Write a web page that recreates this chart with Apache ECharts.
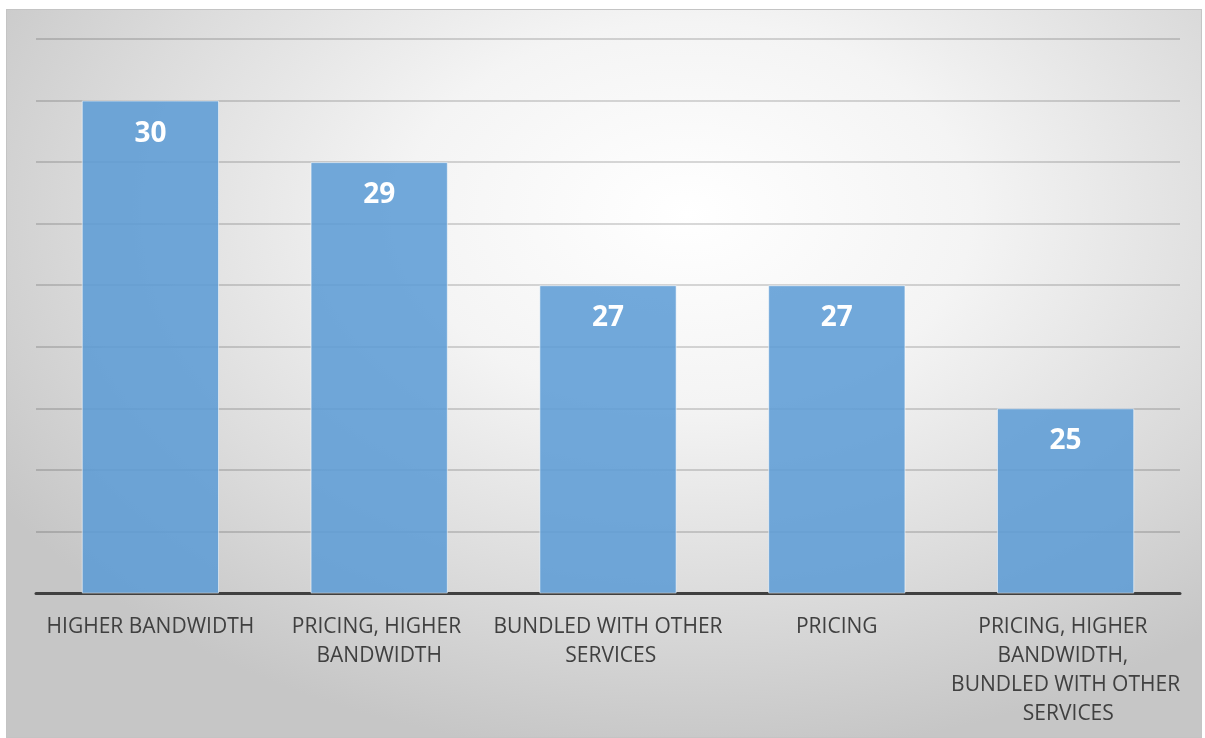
<!DOCTYPE html>
<html>
<head>
<meta charset="utf-8">
<script src="https://cdn.jsdelivr.net/npm/echarts@6/dist/echarts.min.js"></script>
<style>
html,body{margin:0;padding:0;width:1205px;height:738px;background:#fff;overflow:hidden;}
#bg{position:absolute;left:6px;top:9px;width:1196px;height:729px;border:1px solid #c4c4c4;box-sizing:border-box;
background:radial-gradient(ellipse 68% 75% at 57% 28%, #ffffff 0%, #f4f4f4 35%, #dcdcdc 70%, #c6c6c6 100%);}
#chart{position:absolute;left:0;top:0;width:1205px;height:738px;}
</style>
</head>
<body>
<div id="bg"></div>
<div id="chart"></div>
<script>
const categories = ['HIGHER BANDWIDTH', 'PRICING, HIGHER BANDWIDTH', 'BUNDLED WITH OTHER SERVICES', 'PRICING', 'PRICING, HIGHER BANDWIDTH, BUNDLED WITH OTHER SERVICES'];
const values = [30, 29, 27, 27, 25];
const yMin = 22, yMax = 31, yStep = 1;

const chart = echarts.init(document.getElementById('chart'), null, {renderer: 'canvas'});
chart.setOption({
  backgroundColor: 'transparent',
  animation: false,
  grid: {left: 36, right: 25, top: 39, bottom: 145, containLabel: false},
  xAxis: {
    type: 'category',
    data: categories,
    axisLine: {show: true, lineStyle: {color: '#404040', width: 3}},
    axisTick: {show: false},
    axisLabel: {
      interval: 0, margin: 20, color: '#404040', fontFamily: 'Open Sans', fontSize: 21, lineHeight: 29,
      width: 231, overflow: 'break', align: 'center'
    }
  },
  yAxis: {
    type: 'value', min: yMin, max: yMax, interval: yStep,
    axisLine: {show: false}, axisTick: {show: false}, axisLabel: {show: false},
    splitLine: {show: true, lineStyle: {color: 'rgba(0,0,0,0.2)', width: 1.5}}
  },
  series: [{
    type: 'bar',
    data: values,
    barCategoryGap: '40%',
    itemStyle: {color: 'rgba(91,155,213,0.86)', borderColor: 'rgba(255,255,255,0.55)', borderWidth: 1},
    label: {
      show: true, position: 'insideTop', distance: 19,
      color: '#ffffff', fontFamily: 'Open Sans', fontWeight: 'bold', fontSize: 28
    }
  }]
});
</script>
</body>
</html>
